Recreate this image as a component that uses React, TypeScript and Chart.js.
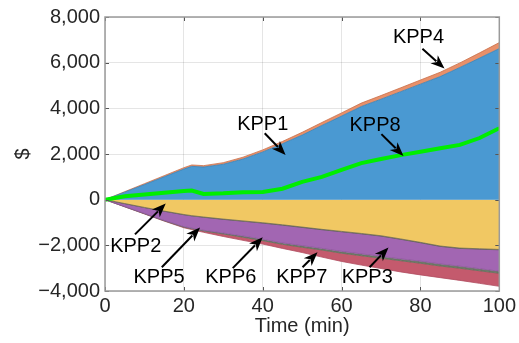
import React, { useEffect, useRef } from "react";
import { Chart, registerables } from "chart.js";

Chart.register(...registerables);

// ---- data ----
const times = [0, 5, 10, 15, 20, 22, 25, 30, 35, 40, 45, 50, 55, 60, 65, 70, 75, 80, 85, 90, 95, 100];
const kpp1 = [0, 330, 660, 1000, 1340, 1460, 1430, 1550, 1780, 2090, 2450, 2830, 3250, 3660, 4080, 4400, 4730, 5060, 5390, 5790, 6200, 6620];
const kpp4 = [0, 20, 40, 50, 60, 60, 60, 70, 80, 90, 100, 120, 130, 140, 150, 160, 170, 180, 190, 200, 230, 260];
const kpp8 = [0, 150, 230, 300, 380, 400, 250, 280, 330, 340, 480, 780, 1000, 1300, 1600, 1780, 1950, 2100, 2250, 2400, 2700, 3130];
const kpp2 = [0, -170, -340, -500, -650, -700, -760, -850, -930, -1010, -1100, -1200, -1300, -1390, -1480, -1580, -1720, -1870, -2030, -2120, -2150, -2180];
const kpp5 = [0, -3, -5, -8, -10, -10, -10, -12, -12, -15, -15, -15, -15, -15, -15, -15, -15, -15, -15, -15, -15, -15];
const kpp3 = [0, -130, -260, -400, -520, -540, -570, -600, -650, -710, -780, -800, -820, -860, -880, -890, -860, -810, -770, -780, -860, -940];
const kpp7 = [0, -5, -10, -15, -20, -25, -30, -40, -50, -60, -60, -70, -70, -80, -80, -80, -80, -90, -90, -90, -90, -90];
const kpp6 = [0, -5, -10, -15, -30, -35, -60, -110, -140, -150, -180, -230, -310, -360, -410, -450, -490, -510, -510, -530, -550, -570];

const xTicks = [0, 20, 40, 60, 80, 100];
const yTicks = [-4000, -2000, 0, 2000, 4000, 6000, 8000];

// annotation labels: text position and arrow tail/tip, in data units
const annLabels = ["KPP4", "KPP1", "KPP8", "KPP2", "KPP5", "KPP6", "KPP7", "KPP3"];
const annTextX = [79.5, 40, 68.5, 7.8, 13.7, 31.9, 49.9, 66.5];
const annTextY = [7110, 3280, 3260, -2065, -3410, -3410, -3410, -3410];
const annTailX = [80.5, 40.5, 70.1, 7.6, 14.4, 32.4, 50.1, 67.1];
const annTailY = [6610, 2910, 2870, -1520, -2960, -3000, -2960, -2960];
const annTipX = [86.1, 45.8, 75.7, 15.4, 24.1, 40, 53.9, 71.9];
const annTipY = [5740, 1960, 1910, -170, -1220, -1650, -2300, -2090];

const FONT = "'Liberation Sans', Arial, Helvetica, sans-serif";

const toPts = (ys: number[]) => times.map((t, i) => ({ x: t, y: ys[i] }));

const boxPlugin = {
  id: "boxAndAnnotations",
  afterDraw(chart: any) {
    const { ctx, chartArea: a, scales } = chart;
    const xs = scales.x;
    const ys = scales.y;
    ctx.save();
    // inward tick marks
    ctx.strokeStyle = "#555";
    ctx.lineWidth = 1;
    xTicks.forEach((v) => {
      const px = Math.round(xs.getPixelForValue(v)) + 0.5;
      ctx.beginPath();
      ctx.moveTo(px, a.bottom);
      ctx.lineTo(px, a.bottom - 4);
      ctx.moveTo(px, a.top);
      ctx.lineTo(px, a.top + 4);
      ctx.stroke();
    });
    yTicks.forEach((v) => {
      const py = Math.round(ys.getPixelForValue(v)) + 0.5;
      ctx.beginPath();
      ctx.moveTo(a.left, py);
      ctx.lineTo(a.left + 4, py);
      ctx.moveTo(a.right, py);
      ctx.lineTo(a.right - 4, py);
      ctx.stroke();
    });
    // box
    ctx.strokeStyle = "#9a9a9a";
    ctx.lineWidth = 1.5;
    ctx.strokeRect(a.left, a.top, a.right - a.left, a.bottom - a.top);

    // annotations
    ctx.fillStyle = "#000";
    ctx.strokeStyle = "#000";
    ctx.font = `20px ${FONT}`;
    ctx.textAlign = "center";
    ctx.textBaseline = "middle";
    annLabels.forEach((lab, i) => {
      const tx = xs.getPixelForValue(annTextX[i]);
      const ty = ys.getPixelForValue(annTextY[i]);
      ctx.fillText(lab, tx, ty);
      const x0 = xs.getPixelForValue(annTailX[i]);
      const y0 = ys.getPixelForValue(annTailY[i]);
      const x1 = xs.getPixelForValue(annTipX[i]);
      const y1 = ys.getPixelForValue(annTipY[i]);
      const ang = Math.atan2(y1 - y0, x1 - x0);
      const L = 14;
      const W = 5.5;
      const bx = x1 - L * Math.cos(ang);
      const by = y1 - L * Math.sin(ang);
      ctx.lineWidth = 2;
      ctx.beginPath();
      ctx.moveTo(x0, y0);
      ctx.lineTo(bx + 3 * Math.cos(ang), by + 3 * Math.sin(ang));
      ctx.stroke();
      const nx = -Math.sin(ang);
      const ny = Math.cos(ang);
      const notchX = x1 - (L - 4) * Math.cos(ang);
      const notchY = y1 - (L - 4) * Math.sin(ang);
      ctx.beginPath();
      ctx.moveTo(x1, y1);
      ctx.lineTo(bx + W * nx, by + W * ny);
      ctx.lineTo(notchX, notchY);
      ctx.lineTo(bx - W * nx, by - W * ny);
      ctx.closePath();
      ctx.fill();
    });
    ctx.restore();
  },
};

const fmt = (v: number) => {
  const s = Math.abs(v).toLocaleString("en-US");
  return v < 0 ? "\u2212" + s : s;
};

export default function App() {
  const ref = useRef<HTMLCanvasElement | null>(null);
  useEffect(() => {
    if (!ref.current) return;
    Chart.defaults.font.family = FONT;
    const area = (label: string, data: number[], color: string, fill: any, border: string) => ({
      label,
      data: toPts(data),
      backgroundColor: color,
      borderColor: border,
      borderWidth: 0.8,
      pointRadius: 0,
      fill,
      tension: 0,
      stack: "s",
    });
    const chart = new Chart(ref.current, {
      type: "line",
      data: {
        datasets: [
          {
            label: "KPP8",
            data: toPts(kpp8),
            borderColor: "#00ee00",
            backgroundColor: "#00ee00",
            borderWidth: 4,
            pointRadius: 0,
            fill: false,
            tension: 0,
            stack: "line",
          },
          area("KPP1", kpp1, "#4a99d2", "origin", "#3d7fae"),
          area("KPP4", kpp4, "#e8906a", "-1", "#c9704a"),
          area("KPP2", kpp2, "#f1c863", "origin", "#6d6a55"),
          area("KPP5", kpp5, "#55555a", "-1", "#55555a"),
          area("KPP3", kpp3, "#a266b2", "-1", "#8a5598"),
          area("KPP7", kpp7, "#6f7a68", "-1", "#5d6a57"),
          area("KPP6", kpp6, "#c45a6d", "-1", "#b04c60"),
        ] as any,
      },
      options: {
        animation: false,
        responsive: false,
        devicePixelRatio: 1,
        layout: { padding: { top: 15, right: 19, left: 0, bottom: 0 } },
        plugins: { legend: { display: false }, tooltip: { enabled: false } },
        scales: {
          x: {
            type: "linear",
            min: 0,
            max: 100,
            z: 1,
            afterBuildTicks: (s: any) => {
              s.ticks = xTicks.map((v) => ({ value: v }));
            },
            afterFit: (s: any) => {
              s.height = 52;
            },
            ticks: {
              color: "#262626",
              font: { size: 20 },
              padding: 3,
              maxRotation: 0,
              autoSkip: false,
            },
            grid: { color: "rgba(0,0,0,0.1)", drawTicks: false },
            border: { display: false },
            title: {
              display: true,
              text: "Time (min)",
              color: "#262626",
              font: { size: 20 },
              padding: { top: 0, bottom: 5 },
            },
          },
          y: {
            type: "linear",
            stacked: true,
            min: -4000,
            max: 8000,
            z: 1,
            afterBuildTicks: (s: any) => {
              s.ticks = yTicks.map((v) => ({ value: v }));
            },
            afterFit: (s: any) => {
              s.width = 105;
            },
            ticks: {
              color: "#262626",
              font: { size: 20 },
              padding: 5,
              autoSkip: false,
              callback: (v: any) => fmt(Number(v)),
            },
            grid: { color: "rgba(0,0,0,0.1)", drawTicks: false },
            border: { display: false },
            title: {
              display: true,
              text: "$",
              color: "#262626",
              font: { size: 20 },
              padding: { top: 11, bottom: 0 },
            },
          },
        },
      },
      plugins: [boxPlugin],
    } as any);
    return () => chart.destroy();
  }, []);
  return (
    <div style={{ position: "absolute", left: 0, top: 0, width: 519, height: 343, background: "#fff" }}>
      <canvas ref={ref} width={519} height={343} style={{ width: 519, height: 343, display: "block" }} />
    </div>
  );
}
